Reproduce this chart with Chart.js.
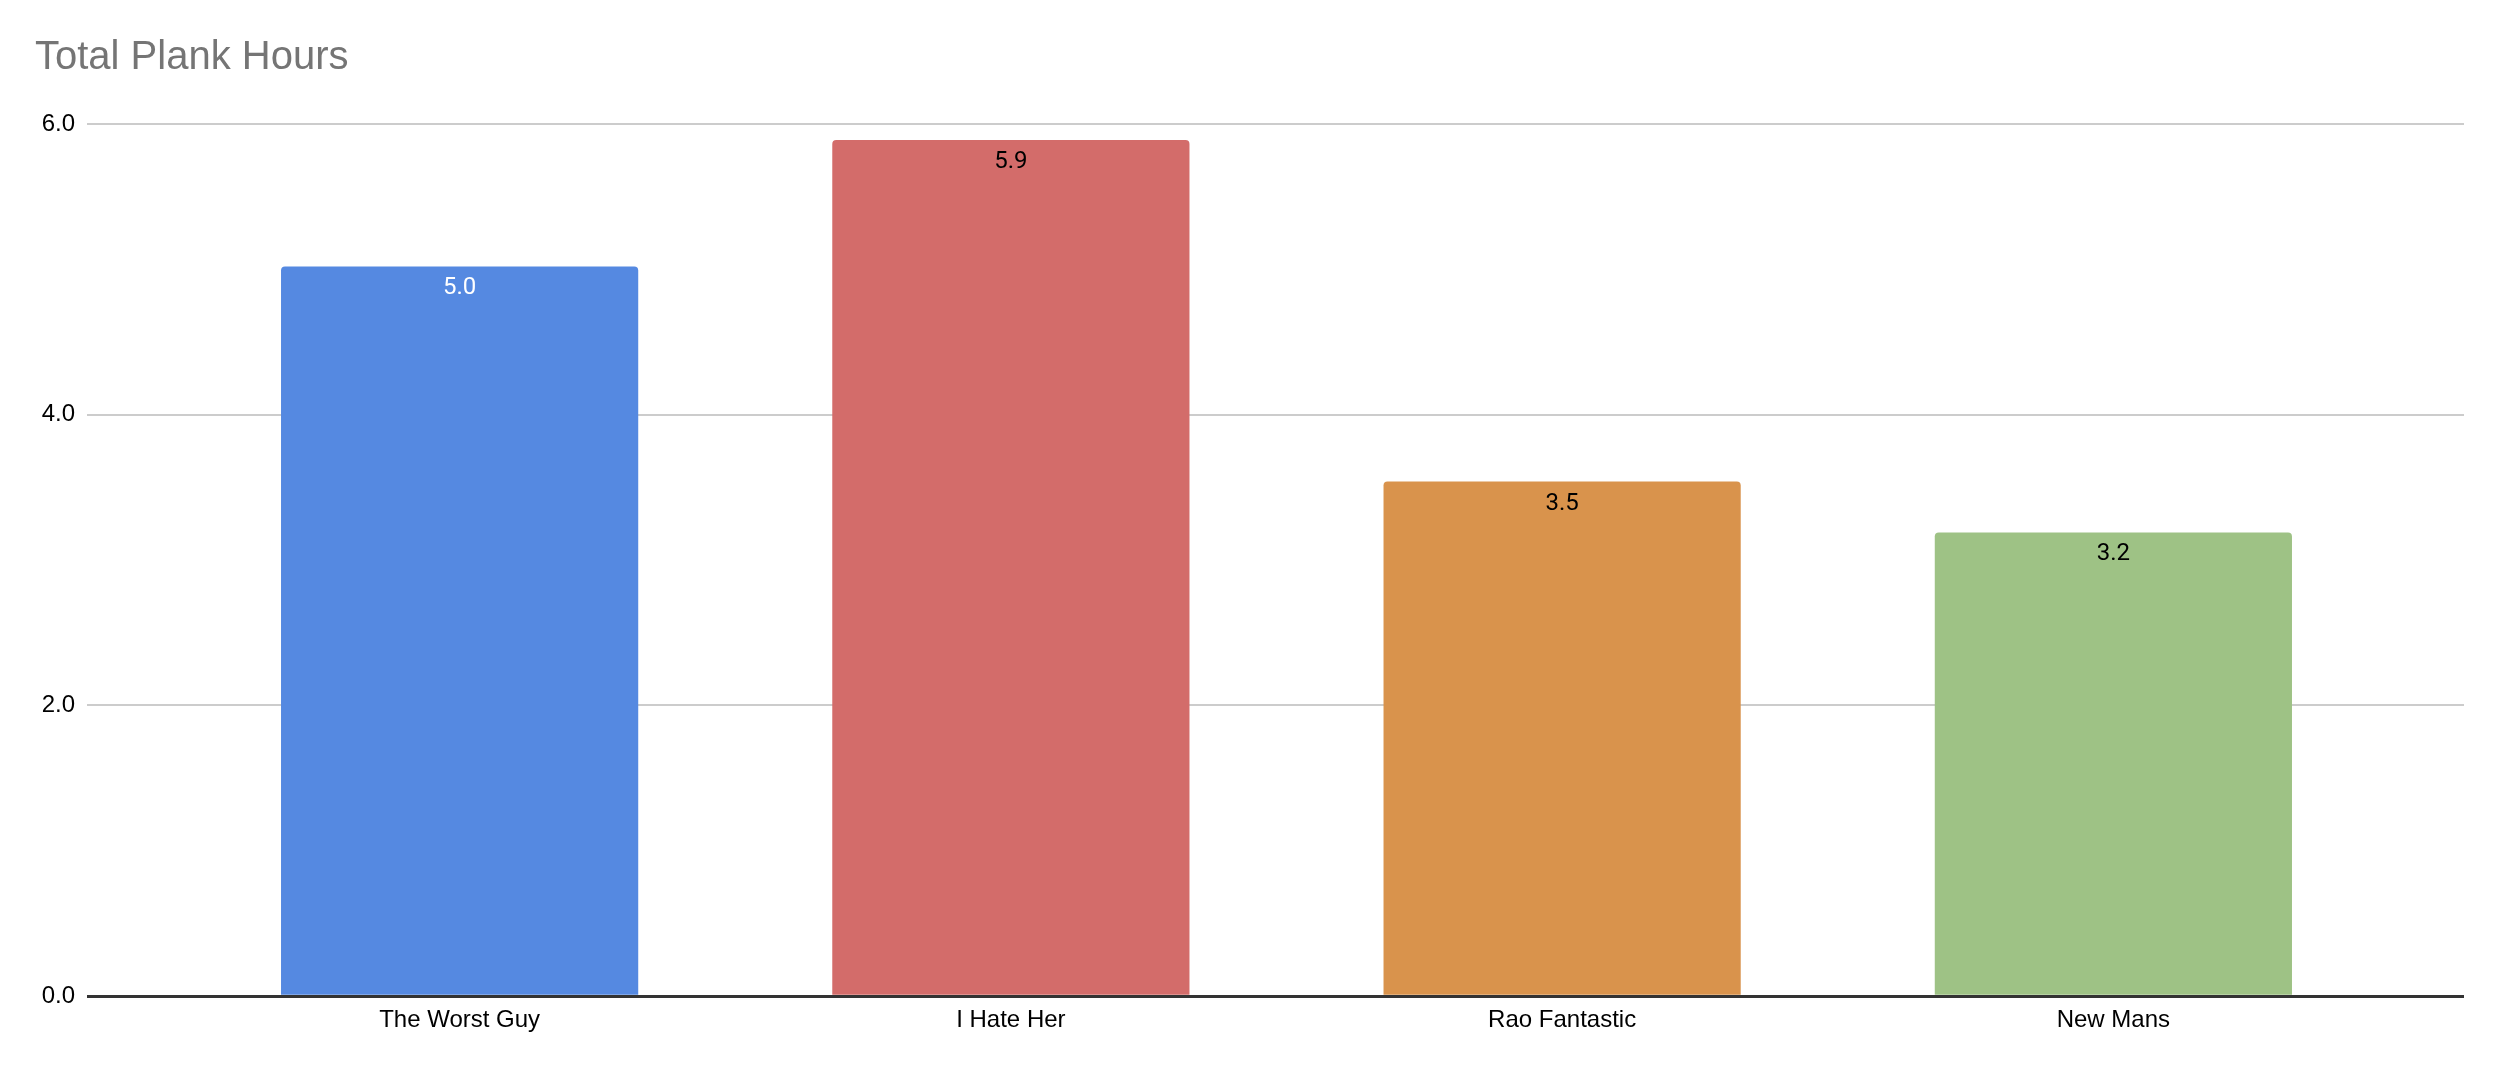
<!DOCTYPE html>
<html>
<head>
<meta charset="utf-8">
<script src="https://cdn.jsdelivr.net/npm/chart.js@4"></script>
<style>
  body { margin: 0; background: #fff; }
  #wrap { width: 2512px; height: 1066px; }
</style>
</head>
<body>
<div id="wrap"><canvas id="myChart"></canvas></div>
<script>
// data
let players = ["The Worst Guy", "I Hate Her", "Rao Fantastic", "New Mans"];
let plankHours = [5.02, 5.89, 3.54, 3.19];
let yTicks = [0, 2, 4, 6];

// styles
let barColors = ["#5589E1", "#D36C6A", "#D9934C", "#9EC285"];
let labelColors = ["#ffffff", "#000000", "#000000", "#000000"];

// value labels inside the top of each bar
let barLabels = {
    id: "barLabels",
    afterDatasetsDraw(chart) {
        let ctx = chart.ctx;
        let meta = chart.getDatasetMeta(0);
        ctx.save();
        ctx.font = "24px Roboto";
        ctx.textAlign = "center";
        ctx.textBaseline = "middle";
        meta.data.forEach((bar, i) => {
            ctx.fillStyle = labelColors[i];
            ctx.fillText(plankHours[i].toFixed(1), bar.x, bar.y + 22);
        });
        ctx.restore();
    }
};

let gridColor = (c) => c.tick && c.tick.value === 0 ? "#333333" : "#cccccc";
let gridWidth = (c) => c.tick && c.tick.value === 0 ? 3 : 2;

const ctx = document.getElementById("myChart").getContext("2d");
const myChart = new Chart(ctx, {
    type: "bar",
    data: {
        labels: players,
        datasets: [{
            label: "Total Plank Hours",
            data: plankHours,
            backgroundColor: barColors,
            borderWidth: 0,
            borderRadius: { topLeft: 4, topRight: 4, bottomLeft: 0, bottomRight: 0 },
            borderSkipped: false,
            categoryPercentage: 1,
            barPercentage: 0.648
        }]
    },
    plugins: [barLabels],
    options: {
        responsive: true,
        maintainAspectRatio: false,
        animation: false,
        layout: { padding: { top: 34, left: 35, right: 48, bottom: 29 } },
        plugins: {
            legend: { display: false },
            tooltip: { enabled: false },
            title: {
                display: true,
                text: "Total Plank Hours",
                align: "start",
                color: "#757575",
                font: { family: "Arial, 'Liberation Sans'", size: 40, weight: "normal" },
                padding: { top: 0, bottom: 42 }
            }
        },
        scales: {
            x: {
                grid: { display: false },
                border: { display: false },
                ticks: {
                    color: "#000",
                    padding: 2,
                    font: { family: "Arial, 'Liberation Sans'", size: 24 }
                }
            },
            y: {
                min: 0,
                max: 6,
                afterBuildTicks: (axis) => { axis.ticks = yTicks.map(v => ({ value: v })); },
                afterFit: (axis) => { axis.width = 149; },
                border: { display: false },
                grid: { color: gridColor, lineWidth: gridWidth, tickLength: 97, tickColor: gridColor, tickWidth: gridWidth },
                ticks: {
                    color: "#000",
                    padding: 12,
                    font: { family: "Arial, 'Liberation Sans'", size: 24 },
                    callback: (v) => Number(v).toFixed(1)
                }
            },
            y2: {
                position: "right",
                min: 0,
                max: 6,
                afterBuildTicks: (axis) => { axis.ticks = yTicks.map(v => ({ value: v })); },
                afterFit: (axis) => { axis.width = 75; },
                border: { display: false },
                grid: { color: gridColor, lineWidth: gridWidth, tickLength: 75, tickColor: gridColor, tickWidth: gridWidth },
                ticks: { display: false }
            }
        }
    }
});
</script>
</body>
</html>
